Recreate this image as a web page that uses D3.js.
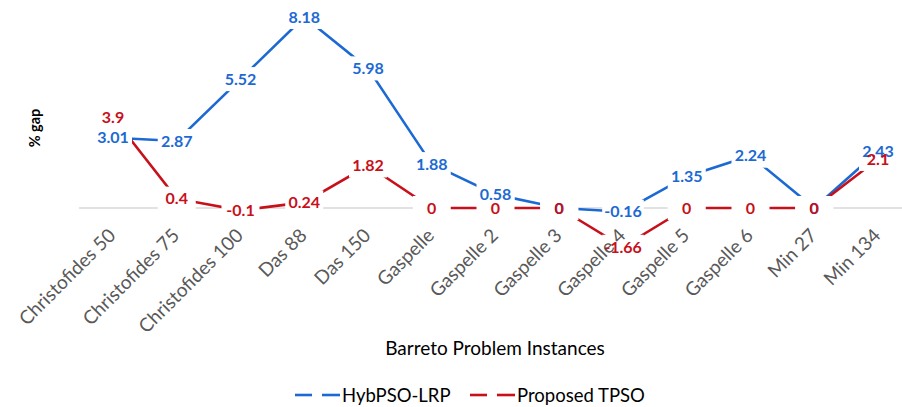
<!DOCTYPE html>
<html><head><meta charset="utf-8">
<script src="https://cdn.jsdelivr.net/npm/d3@7"></script>
<style>body{margin:0;background:#fff}svg{display:block}</style>
</head><body><svg id="c" width="902" height="407"></svg>
<script>
const categories = ["Christofides 50","Christofides 75","Christofides 100","Das 88","Das 150","Gaspelle","Gaspelle 2","Gaspelle 3","Gaspelle 4","Gaspelle 5","Gaspelle 6","Min 27","Min 134"];
const hybpso = [3.01,2.87,5.52,8.18,5.98,1.88,0.58,0,-0.16,1.35,2.24,0,2.43];
const tpso = [3.9,0.4,-0.1,0.24,1.82,0,0,0,-1.66,0,0,0,2.1];
const seriesNames = ["HybPSO-LRP","Proposed TPSO"];
const xTitle = "Barreto Problem Instances";
const yTitle = "% gap";

const BLUE = "#1c69d3", RED = "#c8101a";
const svg = d3.select("#c");
const x = d3.scalePoint().domain(categories).range([113, 878]);
const y = d3.scaleLinear().domain([-2, 9]).range([208 + 2*23.35, 208 - 9*23.35]);

// zero gridline
svg.append("line").attr("x1", 79).attr("x2", 910).attr("y1", y(0)).attr("y2", y(0))
  .attr("stroke", "#d9d9d9").attr("stroke-width", 1.3);

const series = [
  {name: seriesNames[0], vals: hybpso, color: BLUE},
  {name: seriesNames[1], vals: tpso, color: RED}
];
const line = d3.line().x((d, i) => x(categories[i])).y(d => y(d));
series.forEach(s => {
  svg.append("path").datum(s.vals).attr("d", line).attr("fill", "none")
    .attr("stroke", s.color).attr("stroke-width", 2.6);
});

// layers: label boxes, tick labels, label texts
const rectLayer = svg.append("g");
const tickLayer = svg.append("g");
const textLayer = svg.append("g");

tickLayer.selectAll("text").data(categories).join("text")
  .attr("transform", d => `translate(${x(d) - 1},${232}) rotate(-45)`)
  .attr("text-anchor", "end").attr("dy", "0.35em")
  .attr("font-family", "Lato, sans-serif").attr("font-size", 19).attr("fill", "#595959")
  .text(d => d);

series.forEach(s => {
  s.vals.forEach((v, i) => {
    const cx = x(categories[i]), cy = y(v);
    const t = textLayer.append("text").attr("x", cx).attr("y", cy).attr("dy", "0.36em")
      .attr("text-anchor", "middle").attr("font-family", "Lato, sans-serif")
      .attr("font-weight", "bold").attr("font-size", 16).attr("fill", s.color).text(String(v));
    const w = Math.max(t.node().getComputedTextLength() + 4, 38);
    rectLayer.append("rect").attr("fill", "#fff")
      .attr("x", cx - w/2).attr("y", cy - 12).attr("width", w).attr("height", 24);
  });
});

// axis titles
svg.append("text").attr("x", 495).attr("y", 348).attr("dy", "0.35em").attr("text-anchor", "middle")
  .attr("font-family", "Lato, sans-serif").attr("font-size", 19).attr("fill", "#000").text(xTitle);
svg.append("text").attr("transform", "translate(40,128) rotate(-90)").attr("text-anchor", "middle")
  .attr("font-family", "Lato, sans-serif").attr("font-weight", "bold").attr("font-size", 14.5)
  .attr("fill", "#000").text(yTitle);

// legend
const leg = [{x: 295, s: series[0]}, {x: 470, s: series[1]}];
leg.forEach(l => {
  const g = svg.append("g");
  g.append("line").attr("x1", l.x).attr("x2", l.x + 17).attr("y1", 395).attr("y2", 395)
    .attr("stroke", l.s.color).attr("stroke-width", 2.6);
  g.append("line").attr("x1", l.x + 27).attr("x2", l.x + 45).attr("y1", 395).attr("y2", 395)
    .attr("stroke", l.s.color).attr("stroke-width", 2.6);
  g.append("text").attr("x", l.x + 47).attr("y", 396).attr("dy", "0.35em")
    .attr("font-family", "Lato, sans-serif").attr("font-size", 18.5).attr("fill", "#000").text(l.s.name);
});
</script></body></html>
